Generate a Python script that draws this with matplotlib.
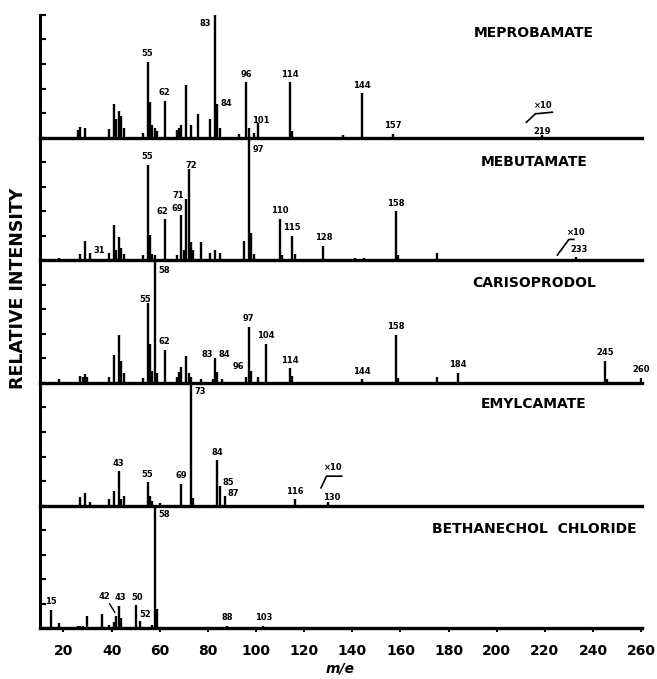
import matplotlib
matplotlib.use('Agg')
import matplotlib.pyplot as plt

# Espectros de masas (m/e, intensidad relativa %)
mepro_mz = [26, 27, 29, 39, 41, 42, 43, 44, 45, 53, 55, 56, 57, 58, 59, 62, 67, 68, 69, 71,
            73, 76, 81, 83, 84, 85, 93, 96, 97, 99, 101, 114, 115, 136, 144, 157, 219]
mepro_int = [6, 9, 8, 7, 27, 15, 22, 18, 8, 4, 62, 29, 10, 8, 5, 30, 6, 8, 10, 43,
             10, 19, 15, 100, 27, 8, 3, 45, 8, 4, 12, 45, 5, 2, 36, 3, 2]

meb_mz = [18, 27, 29, 31, 39, 41, 42, 43, 44, 45, 53, 55, 56, 57, 58, 62, 67, 69, 70, 71,
          72, 73, 74, 77, 81, 83, 85, 95, 97, 98, 99, 110, 111, 115, 116, 128, 141, 145,
          158, 159, 175, 233]
meb_int = [2, 5, 16, 6, 6, 29, 8, 19, 10, 5, 4, 78, 21, 5, 4, 34, 4, 37, 8, 50,
           74, 15, 8, 15, 6, 8, 6, 16, 100, 22, 5, 34, 4, 20, 5, 12, 2, 2,
           40, 4, 6, 3]

car_mz = [18, 27, 28, 29, 30, 39, 41, 43, 44, 45, 53, 55, 56, 57, 58, 59, 62, 67, 68, 69,
          71, 72, 73, 77, 82, 83, 84, 86, 96, 97, 98, 101, 104, 114, 115, 144, 158, 159,
          175, 184, 245, 246, 260]
car_int = [3, 6, 5, 7, 5, 5, 23, 39, 18, 8, 4, 65, 32, 10, 100, 8, 27, 5, 9, 13,
           22, 8, 5, 3, 3, 20, 9, 3, 5, 46, 10, 5, 32, 12, 6, 3, 39, 4,
           5, 8, 18, 3, 4]

emy_mz = [27, 29, 31, 39, 41, 43, 44, 45, 55, 56, 57, 60, 69, 73, 74, 84, 85, 87, 116, 130]
emy_int = [7, 10, 3, 5, 12, 28, 5, 8, 19, 8, 4, 2, 18, 100, 6, 37, 16, 8, 5, 3]

bet_mz = [15, 18, 26, 27, 28, 30, 36, 39, 41, 42, 43, 44, 50, 52, 57, 58, 59, 78, 88, 103]
bet_int = [15, 4, 2, 2, 2, 10, 12, 3, 5, 10, 18, 8, 19, 6, 3, 100, 16, 1, 2, 2]

nombres = ['MEPROBAMATE', 'MEBUTAMATE', 'CARISOPRODOL', 'EMYLCAMATE',
           'BETHANECHOL  CHLORIDE']

# picos rotulados
mepro_lab = [55, 62, 83, 84, 96, 101, 114, 144, 157, 219]
meb_lab = [31, 55, 62, 69, 71, 72, 97, 110, 115, 128, 158, 233]
car_lab = [55, 58, 62, 83, 84, 96, 97, 104, 114, 144, 158, 184, 245, 260]
emy_lab = [43, 55, 69, 73, 84, 85, 87, 116, 130]
bet_lab = [15, 42, 43, 50, 52, 58, 88, 103]

xticks = [20, 40, 60, 80, 100, 120, 140, 160, 180, 200, 220, 240, 260]

espectros = [(mepro_mz, mepro_int, mepro_lab), (meb_mz, meb_int, meb_lab),
             (car_mz, car_int, car_lab), (emy_mz, emy_int, emy_lab),
             (bet_mz, bet_int, bet_lab)]

# rótulos que no van centrados encima del pico: (x, y, ha)
especiales = {
    (0, 83): (81.5, 93, 'right'), (0, 84): (85.2, 28, 'left'), (0, 101): (102, 14, 'center'),
    (0, 219): (219, 5, 'center'),
    (1, 31): (32.5, 8, 'left'), (1, 62): (61, 40, 'center'), (1, 69): (67.3, 42, 'center'),
    (1, 71): (70, 53, 'right'),
    (1, 72): (73, 77, 'center'), (1, 97): (98.5, 90, 'left'), (1, 233): (234, 9, 'center'),
    (2, 58): (59.5, 92, 'left'), (2, 83): (82, 23, 'right'), (2, 84): (84.5, 23, 'left'),
    (2, 96): (92.5, 13, 'center'), (2, 55): (54, 68, 'center'),
    (3, 73): (74.5, 93, 'left'), (3, 85): (86, 19, 'left'), (3, 87): (88.3, 10, 'left'),
    (3, 130): (131.5, 7, 'center'),
    (4, 58): (59.5, 93, 'left'), (4, 42): (37, 26, 'center'), (4, 43): (43.5, 25, 'center'),
    (4, 50): (50.5, 25, 'center'), (4, 52): (54, 11, 'center'),
}

fig = plt.figure(figsize=(6.57, 6.79), dpi=100)
gs = fig.add_gridspec(5, 1, left=0.061, right=0.977, top=0.978, bottom=0.0747, hspace=0)
axes = [fig.add_subplot(gs[i]) for i in range(5)]

for i, ax in enumerate(axes):
    mz, inten, lab = espectros[i]
    ax.vlines(mz, 0, inten, color='black', lw=1.7)
    ax.set_xlim(10.3, 260.3)
    ax.set_ylim(0, 100)
    ax.spines['top'].set_visible(False)
    ax.spines['right'].set_visible(False)
    ax.spines['left'].set_linewidth(2.2)
    ax.spines['bottom'].set_linewidth(2.4)
    ax.set_yticks([0, 20, 40, 60, 80, 100])
    ax.set_yticklabels([])
    ax.tick_params(axis='y', direction='in', length=4, width=1.5)
    ax.set_xticks(xticks)
    if i < 4:
        ax.tick_params(axis='x', length=0, labelbottom=False)
    else:
        ax.set_xticklabels([str(t) for t in xticks], fontsize=10, fontweight='bold')
        ax.tick_params(axis='x', direction='out', length=3, width=1.5, pad=8)
    ax.patch.set_alpha(0)
    ax.text(215.5, [85, 80, 81.5, 83, 80.6][i], nombres[i], ha='center', va='center',
            fontsize=10, fontweight='bold')
    altura = dict(zip(mz, inten))
    for m in lab:
        if (i, m) in especiales:
            x, y, ha = especiales[(i, m)]
            ax.text(x, y, str(m), ha=ha, va='center', fontsize=6, fontweight='bold',
                    clip_on=False)
        else:
            ax.text(m, altura[m] + 3, str(m), ha='center', va='bottom', fontsize=6,
                    fontweight='bold', clip_on=False)

# marcas "x10"
axes[0].plot([212.3, 216.1, 223.1], [12.5, 19.4, 20.7], color='black', lw=1.2)
axes[0].text(219.5, 26, '×10', ha='center', va='center', fontsize=6, fontweight='bold')
axes[1].plot([225.2, 230, 232], [4.3, 17, 17], color='black', lw=1.2)
axes[1].text(233, 23, '×10', ha='center', va='center', fontsize=6, fontweight='bold')
axes[3].plot([127, 129.3, 135.6], [14.5, 24, 24], color='black', lw=1.2)
axes[3].text(132, 31, '×10', ha='center', va='center', fontsize=6, fontweight='bold')

# flecha del 42
axes[4].annotate('', xy=(42, 11), xytext=(38.5, 22),
                 arrowprops=dict(arrowstyle='-', color='black', lw=1.0))

fig.text(0.027, 0.575, 'RELATIVE INTENSITY', rotation=90, ha='center', va='center',
         fontsize=12.5, fontweight='bold')
fig.text(0.517, 0.016, 'm/e', ha='center', va='center', fontsize=10,
         fontweight='bold', style='italic')

fig.savefig('out.png', dpi=100)
